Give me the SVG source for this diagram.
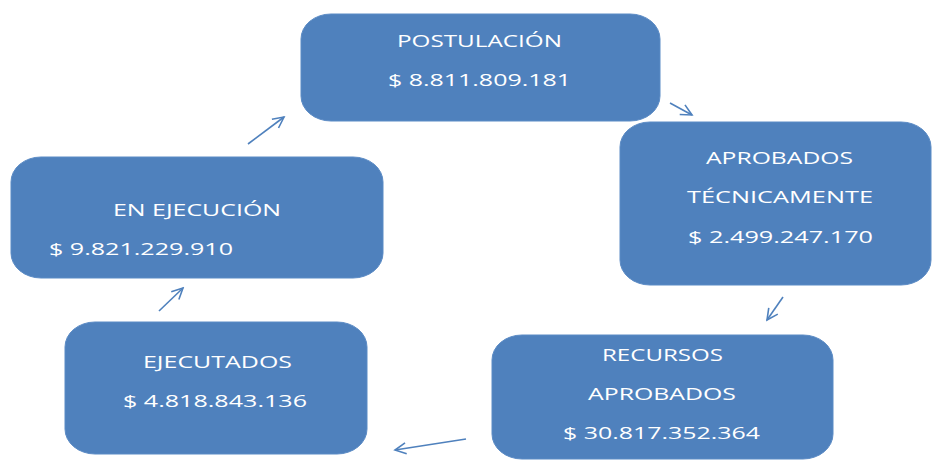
<svg xmlns="http://www.w3.org/2000/svg" width="932" height="460" viewBox="0 0 932 460">
<style>
.box{fill:#4F81BD;stroke:#5B8BC5;stroke-width:1}
.t{fill:#FFFFFF;font-family:"Open Sans","Liberation Sans",sans-serif;font-size:17px}
.c{fill:none;stroke:#4F81BD;stroke-width:1.6}
</style>
<defs>
<marker id="ah" markerUnits="userSpaceOnUse" markerWidth="14" markerHeight="14" refX="12" refY="6" orient="auto" viewBox="0 0 14 12">
<path d="M1,0.5 L12,6 L1,11.5" fill="none" stroke="#4F81BD" stroke-width="1.6"/>
</marker>
</defs>
<rect width="932" height="460" fill="#FFFFFF"/>
<g id="postulacion">
<rect class="box" x="301" y="14" width="359" height="107" rx="30" ry="25"/>
<text class="t" x="397" y="47" textLength="165" lengthAdjust="spacingAndGlyphs">POSTULACIÓN</text>
<text class="t" x="388" y="86" textLength="183" lengthAdjust="spacingAndGlyphs">$ 8.811.809.181</text>
</g>
<g id="aprobados-tecnicamente">
<rect class="box" x="620" y="122" width="311" height="163" rx="30" ry="25"/>
<text class="t" x="706" y="164" textLength="147" lengthAdjust="spacingAndGlyphs">APROBADOS</text>
<text class="t" x="687" y="203" textLength="186" lengthAdjust="spacingAndGlyphs">TÉCNICAMENTE</text>
<text class="t" x="688" y="243" textLength="185" lengthAdjust="spacingAndGlyphs">$ 2.499.247.170</text>
</g>
<g id="recursos-aprobados">
<rect class="box" x="492" y="335" width="341" height="124" rx="30" ry="25"/>
<text class="t" x="602" y="361" textLength="121" lengthAdjust="spacingAndGlyphs">RECURSOS</text>
<text class="t" x="588" y="400" textLength="148" lengthAdjust="spacingAndGlyphs">APROBADOS</text>
<text class="t" x="563" y="439" textLength="197" lengthAdjust="spacingAndGlyphs">$ 30.817.352.364</text>
</g>
<g id="ejecutados">
<rect class="box" x="65" y="322" width="302" height="132" rx="30" ry="25"/>
<text class="t" x="143" y="368" textLength="149" lengthAdjust="spacingAndGlyphs">EJECUTADOS</text>
<text class="t" x="123" y="407" textLength="184" lengthAdjust="spacingAndGlyphs">$ 4.818.843.136</text>
</g>
<g id="en-ejecucion">
<rect class="box" x="11" y="157" width="372" height="121" rx="30" ry="25"/>
<text class="t" x="113" y="216" textLength="168" lengthAdjust="spacingAndGlyphs">EN EJECUCIÓN</text>
<text class="t" x="49" y="255" textLength="184" lengthAdjust="spacingAndGlyphs">$ 9.821.229.910</text>
</g>
<g id="connectors">
<line class="c" x1="670" y1="103" x2="692" y2="115" marker-end="url(#ah)"/>
<line class="c" x1="783" y1="297" x2="767" y2="320" marker-end="url(#ah)"/>
<line class="c" x1="466" y1="439" x2="395" y2="450" marker-end="url(#ah)"/>
<line class="c" x1="159" y1="311" x2="183" y2="288" marker-end="url(#ah)"/>
<line class="c" x1="248" y1="144" x2="284" y2="117" marker-end="url(#ah)"/>
</g>
</svg>
